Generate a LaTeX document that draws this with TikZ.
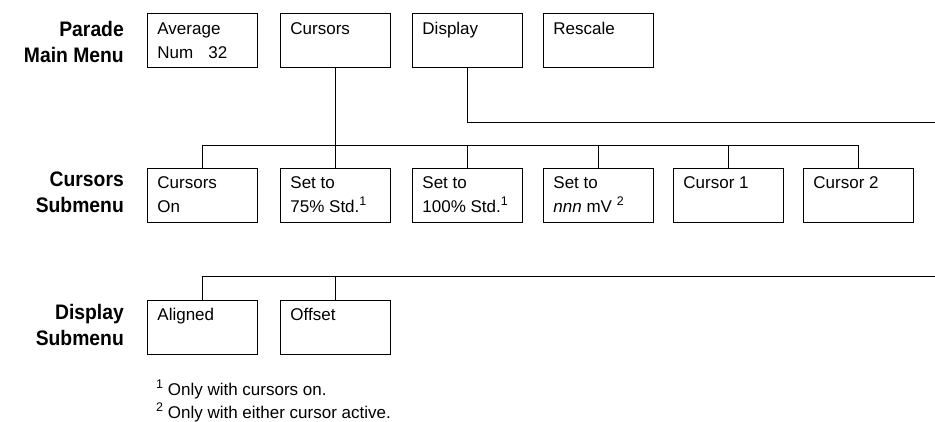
\documentclass[tikz,border=0pt]{standalone}
\usepackage{fontspec}
\setmainfont{Liberation Sans}
\newfontfamily\lblfont[FakeStretch=0.92]{Liberation Sans Bold}
\newcommand\supr[1]{\raisebox{7.5pt}{\fontsize{12.5}{12.5}\selectfont #1}}
\newcommand\boxtxt[1]{\parbox[c][54pt][t]{90pt}{\raggedright\fontsize{17}{24}\selectfont\rule{0pt}{21pt}#1}}
\tikzset{
  menubox/.style={draw, line width=0.9pt, inner sep=0pt, minimum width=110pt, minimum height=54pt, anchor=north west},
  lbl/.style={font=\lblfont\fontsize{21}{26}\selectfont, align=right, anchor=east, inner sep=0pt},
  conn/.style={line width=0.9pt},
  foot/.style={font=\fontsize{17}{23}\selectfont, align=left, anchor=north west, inner sep=0pt}
}
\begin{document}
\begin{tikzpicture}[x=1pt,y=-1pt]
\useasboundingbox (0,0) rectangle (935,421);
% labels
\node[lbl] (lmain) at (124,41.5) {Parade\\Main Menu};
\node[lbl] (lcur) at (124,192.5) {Cursors\\Submenu};
\node[lbl] (ldisp) at (124,324.5) {Display\\Submenu};
% main menu
\node[menubox] (avg) at (147,13) {\boxtxt{Average\\Num\hspace{15pt}32}};
\node[menubox] (cur) at (280,13) {\boxtxt{Cursors}};
\node[menubox] (disp) at (412,13) {\boxtxt{Display}};
\node[menubox] (resc) at (543,13) {\boxtxt{Rescale}};
% cursors submenu
\node[menubox] (con) at (147,167.5) {\boxtxt{Cursors\\On}};
\node[menubox] (s75) at (280,167.5) {\boxtxt{Set to\\75\% Std.\supr{1}}};
\node[menubox] (s100) at (412,167.5) {\boxtxt{Set to\\100\% Std.\supr{1}}};
\node[menubox] (snnn) at (543,167.5) {\boxtxt{Set to\\\textit{nnn} mV \supr{2}}};
\node[menubox] (c1) at (673,167.5) {\boxtxt{Cursor 1}};
\node[menubox] (c2) at (803,167.5) {\boxtxt{Cursor 2}};
% display submenu
\node[menubox] (ali) at (147,299.5) {\boxtxt{Aligned}};
\node[menubox] (off) at (280,299.5) {\boxtxt{Offset}};
% connectors
\coordinate (cbus) at (0,145);
\coordinate (dend) at (935,122);
\coordinate (dbus) at (935,276.7);
\draw[conn] (con.north) |- (cbus -| c2.north) -- (c2.north);
\foreach \n in {s75,s100,snnn,c1} \draw[conn] (\n.north) -- (\n.north |- cbus);
\draw[conn] (cur.south) -- (cur.south |- cbus);
\draw[conn] (disp.south) |- (dend);
\draw[conn] (ali.north) |- (dbus);
\draw[conn] (off.north) -- (off.north |- dbus);
% footnotes
\node[foot] (fn) at (156,379.5) {\supr{1} Only with cursors on.\\\supr{2} Only with either cursor active.};
\end{tikzpicture}
\end{document}
